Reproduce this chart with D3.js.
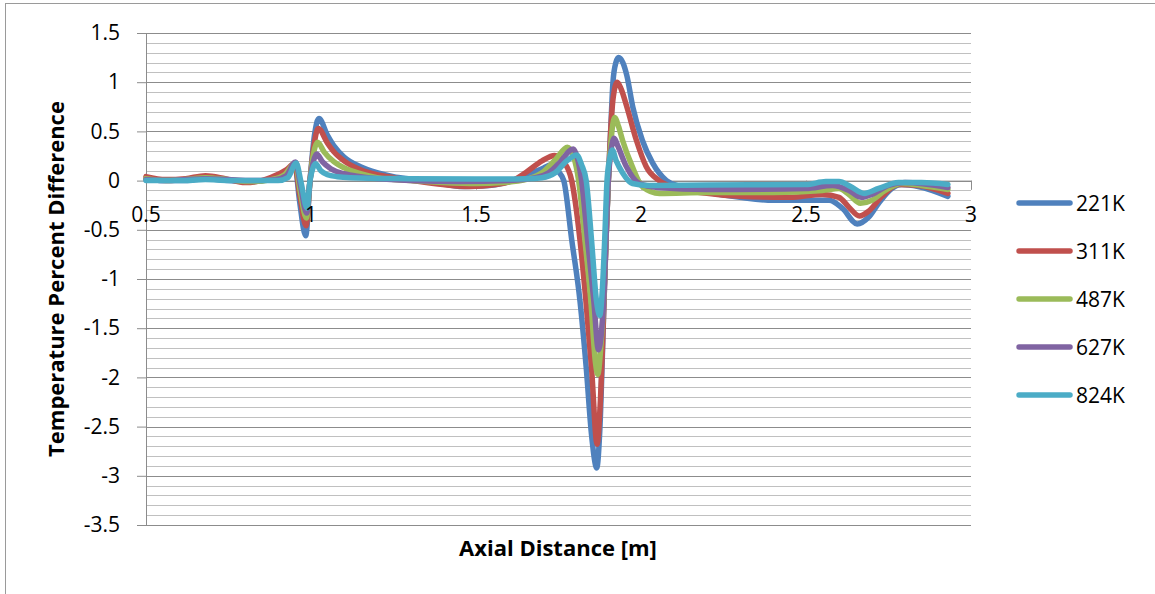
<!DOCTYPE html>
<html>
<head>
<meta charset="utf-8">
<script src="https://cdn.jsdelivr.net/npm/d3@7"></script>
<style>
  html, body { margin: 0; padding: 0; background: #fff; }
  svg { display: block; font-family: "Open Sans", "Liberation Sans", sans-serif; }
</style>
</head>
<body>
<svg id="chart" width="1155" height="594"></svg>
<script>
// Temperature percent difference along the axial distance, one series per wall temperature.
const seriesNames = ["221K", "311K", "487K", "627K", "824K"];
const seriesColors = ["#4F81BD", "#C0504D", "#9BBB59", "#8064A2", "#4BACC6"];

const xTicks = [0.5, 1, 1.5, 2, 2.5, 3];
const yTicks = [1.5, 1, 0.5, 0, -0.5, -1, -1.5, -2, -2.5, -3, -3.5];

// [axial distance (m), percent difference]
const s221 = [[0.50,0.02],[0.55,0.00],[0.62,0.00],[0.68,0.02],[0.75,0.00],[0.82,-0.01],[0.87,0.01],[0.90,0.05],[0.93,0.11],[0.951,0.16],[0.965,-0.20],[0.984,-0.56],[0.997,0.00],[1.010,0.45],[1.024,0.63],[1.05,0.46],[1.07,0.35],[1.10,0.24],[1.15,0.14],[1.20,0.08],[1.25,0.04],[1.30,0.015],[1.38,-0.02],[1.46,-0.06],[1.54,-0.05],[1.60,-0.01],[1.65,0.05],[1.70,0.12],[1.728,0.16],[1.75,0.09],[1.766,0.00],[1.79,-0.60],[1.815,-1.22],[1.834,-1.90],[1.850,-2.58],[1.866,-2.92],[1.875,-2.55],[1.888,-1.22],[1.894,-0.60],[1.901,0.00],[1.908,0.50],[1.915,1.00],[1.924,1.20],[1.932,1.25],[1.945,1.20],[1.957,1.07],[1.975,0.75],[2.004,0.41],[2.035,0.18],[2.077,0.00],[2.12,-0.06],[2.20,-0.12],[2.30,-0.17],[2.40,-0.20],[2.50,-0.20],[2.57,-0.20],[2.61,-0.28],[2.655,-0.44],[2.69,-0.37],[2.72,-0.23],[2.76,-0.08],[2.79,-0.04],[2.84,-0.06],[2.93,-0.16]];
const s311 = [[0.50,0.04],[0.56,0.01],[0.62,0.02],[0.68,0.05],[0.74,0.02],[0.80,-0.02],[0.85,0.00],[0.89,0.05],[0.925,0.11],[0.950,0.17],[0.966,-0.15],[0.985,-0.46],[0.997,0.00],[1.010,0.38],[1.022,0.53],[1.05,0.38],[1.07,0.29],[1.10,0.20],[1.15,0.11],[1.20,0.06],[1.25,0.03],[1.30,0.005],[1.40,-0.04],[1.48,-0.06],[1.56,-0.04],[1.61,0.00],[1.65,0.08],[1.70,0.20],[1.738,0.255],[1.768,0.18],[1.790,0.00],[1.815,-0.60],[1.833,-1.22],[1.850,-1.90],[1.867,-2.68],[1.876,-2.30],[1.888,-1.22],[1.894,-0.60],[1.901,0.00],[1.908,0.50],[1.916,0.85],[1.928,1.00],[1.940,0.93],[1.957,0.75],[1.986,0.41],[2.016,0.14],[2.055,0.00],[2.10,-0.07],[2.20,-0.13],[2.30,-0.16],[2.45,-0.17],[2.55,-0.14],[2.60,-0.17],[2.63,-0.27],[2.662,-0.36],[2.69,-0.31],[2.73,-0.16],[2.78,-0.04],[2.84,-0.05],[2.93,-0.13]];
const s487 = [[0.50,0.02],[0.56,0.00],[0.62,0.01],[0.68,0.03],[0.75,0.01],[0.82,-0.01],[0.88,0.01],[0.92,0.06],[0.952,0.18],[0.967,-0.10],[0.986,-0.38],[0.997,0.00],[1.008,0.28],[1.020,0.39],[1.04,0.29],[1.07,0.19],[1.10,0.13],[1.15,0.07],[1.20,0.03],[1.30,0.00],[1.40,-0.02],[1.50,-0.03],[1.58,-0.02],[1.65,0.01],[1.70,0.08],[1.74,0.21],[1.777,0.34],[1.795,0.25],[1.811,0.00],[1.830,-0.60],[1.848,-1.22],[1.862,-1.85],[1.869,-1.97],[1.878,-1.70],[1.887,-1.22],[1.894,-0.60],[1.901,0.00],[1.909,0.40],[1.920,0.64],[1.932,0.55],[1.944,0.41],[1.974,0.14],[2.004,-0.06],[2.056,-0.13],[2.20,-0.12],[2.40,-0.12],[2.55,-0.10],[2.60,-0.08],[2.63,-0.14],[2.665,-0.23],[2.70,-0.20],[2.74,-0.10],[2.79,-0.03],[2.85,-0.05],[2.93,-0.09]];
const s627 = [[0.50,0.01],[0.56,0.00],[0.62,0.01],[0.68,0.02],[0.75,0.01],[0.82,0.00],[0.89,0.01],[0.925,0.05],[0.953,0.19],[0.968,-0.05],[0.987,-0.33],[0.997,0.00],[1.007,0.19],[1.017,0.27],[1.035,0.19],[1.06,0.12],[1.10,0.07],[1.15,0.04],[1.20,0.02],[1.30,0.00],[1.45,-0.01],[1.60,0.00],[1.68,0.03],[1.72,0.08],[1.75,0.17],[1.795,0.32],[1.808,0.22],[1.820,0.00],[1.838,-0.60],[1.857,-1.22],[1.871,-1.72],[1.880,-1.55],[1.887,-1.22],[1.894,-0.60],[1.901,0.00],[1.909,0.30],[1.919,0.43],[1.930,0.35],[1.956,0.14],[1.995,-0.03],[2.05,-0.07],[2.20,-0.09],[2.50,-0.08],[2.58,-0.05],[2.63,-0.10],[2.668,-0.17],[2.70,-0.14],[2.75,-0.05],[2.80,-0.02],[2.93,-0.07]];
const s824 = [[0.50,0.00],[0.56,0.00],[0.62,0.00],[0.68,0.01],[0.75,0.00],[0.82,0.00],[0.90,0.00],[0.93,0.03],[0.955,0.18],[0.970,-0.02],[0.988,-0.28],[0.997,0.00],[1.006,0.13],[1.014,0.17],[1.03,0.10],[1.05,0.06],[1.08,0.04],[1.12,0.03],[1.30,0.02],[1.50,0.015],[1.65,0.02],[1.70,0.03],[1.74,0.08],[1.775,0.20],[1.805,0.26],[1.82,0.16],[1.834,0.00],[1.850,-0.60],[1.865,-1.22],[1.875,-1.37],[1.883,-1.10],[1.890,-0.60],[1.897,0.00],[1.905,0.22],[1.913,0.31],[1.925,0.20],[1.944,0.08],[1.974,-0.03],[2.025,-0.05],[2.20,-0.045],[2.50,-0.04],[2.56,-0.01],[2.60,-0.01],[2.635,-0.06],[2.676,-0.13],[2.72,-0.08],[2.78,-0.02],[2.85,-0.02],[2.93,-0.04]];

const seriesData = [s221, s311, s487, s627, s824];

const svg = d3.select("#chart");

// outer chart frame
svg.append("rect")
  .attr("x", 5.5).attr("y", 3.5)
  .attr("width", 1160).attr("height", 620)
  .attr("fill", "#fff").attr("stroke", "#9a9a9a").attr("stroke-width", 1);

const x = d3.scaleLinear().domain([0.5, 3]).range([146, 971]);
const y = d3.scaleLinear().domain([-3.5, 1.5]).range([525, 33]);

// minor gridlines every 0.1, major every 0.5
const minor = d3.range(-35, 16).map(v => v / 10).filter(v => Math.abs(v * 2 - Math.round(v * 2)) > 1e-6);
svg.append("g").selectAll("line").data(minor).join("line")
  .attr("x1", x(0.5)).attr("x2", x(3))
  .attr("y1", d => Math.round(y(d)) + 0.5).attr("y2", d => Math.round(y(d)) + 0.5)
  .attr("stroke", "#c0c0c0").attr("stroke-width", 1);

svg.append("g").selectAll("line").data(yTicks).join("line")
  .attr("x1", x(0.5)).attr("x2", x(3))
  .attr("y1", d => Math.round(y(d)) + 0.5).attr("y2", d => Math.round(y(d)) + 0.5)
  .attr("stroke", "#8c8c8c").attr("stroke-width", 1);

// vertical axis
const yAxis = svg.append("g")
  .attr("transform", `translate(${x(0.5)},0)`)
  .call(d3.axisLeft(y).tickValues(yTicks).tickSize(9).tickPadding(17).tickFormat(d3.format("~g")));
yAxis.select(".domain").attr("stroke", "#8c8c8c");
yAxis.selectAll(".tick line").attr("stroke", "#8c8c8c");
yAxis.selectAll(".tick text")
  .attr("font-size", 21).attr("fill", "#000")
  .attr("font-family", "'Open Sans', sans-serif")
  .text(d => d3.format("~g")(d).replace("−", "-"));

// horizontal axis at zero
const xAxisG = svg.append("g")
  .attr("transform", `translate(0,${y(0)})`)
  .call(d3.axisBottom(x).tickValues(xTicks).tickSize(9).tickFormat(""));
xAxisG.select(".domain").attr("stroke", "#8c8c8c");
xAxisG.selectAll(".tick line").attr("stroke", "#8c8c8c");

// series lines
const line = d3.line()
  .x(d => x(d[0]))
  .y(d => y(d[1]))
  .curve(d3.curveMonotoneX);

svg.append("g").selectAll("path").data(seriesData).join("path")
  .attr("d", line)
  .attr("fill", "none")
  .attr("stroke", (d, i) => seriesColors[i])
  .attr("stroke-width", 5.5)
  .attr("stroke-linejoin", "round")
  .attr("stroke-linecap", "round");

// x tick labels sit above the series
svg.append("g").selectAll("text").data(xTicks).join("text")
  .attr("x", d => x(d))
  .attr("y", 222)
  .attr("text-anchor", "middle")
  .attr("font-size", 21)
  .attr("fill", "#000")
  .text(d => d3.format("~g")(d));

// axis titles
svg.append("text")
  .attr("x", 558).attr("y", 556)
  .attr("text-anchor", "middle")
  .attr("font-size", 22).attr("font-weight", "bold")
  .text("Axial Distance [m]");

svg.append("text")
  .attr("transform", `translate(64,${(y(1.5) + y(-3.5)) / 2}) rotate(-90)`)
  .attr("text-anchor", "middle")
  .attr("font-size", 22).attr("font-weight", "bold")
  .text("Temperature Percent Difference");

// legend
const legend = svg.append("g").selectAll("g").data(seriesNames).join("g")
  .attr("transform", (d, i) => `translate(0,${203 + i * 48})`);
legend.append("line")
  .attr("x1", 1019).attr("x2", 1070)
  .attr("stroke", (d, i) => seriesColors[i])
  .attr("stroke-width", 5.5)
  .attr("stroke-linecap", "round");
legend.append("text")
  .attr("x", 1076).attr("dy", "0.36em")
  .attr("font-size", 21).attr("fill", "#000")
  .text(d => d);
</script>
</body>
</html>
